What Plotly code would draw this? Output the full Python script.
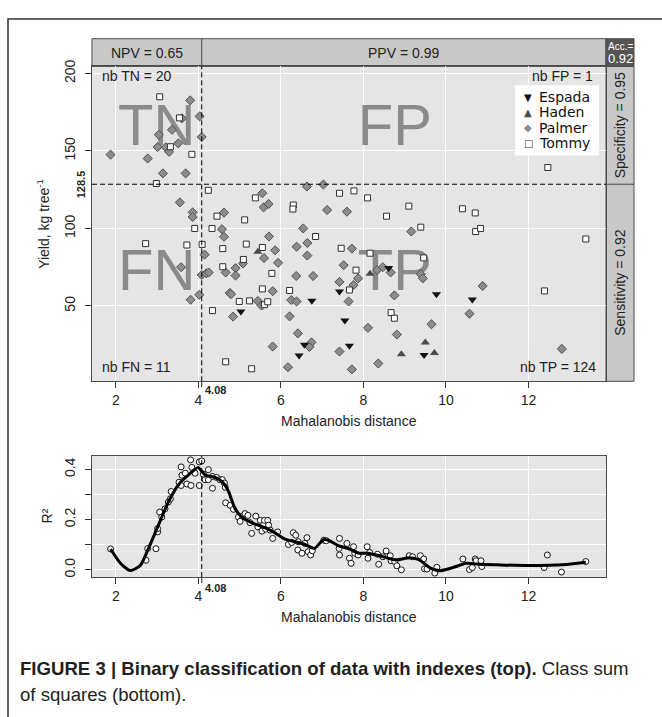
import plotly.graph_objects as go

W, H = 662, 717


def px(x):
    return x / W


def py(y):
    return 1 - y / H


# ---------------- data (top panel) ----------------
espada_x = [5.03, 6.75, 7.42, 8.61, 7.55, 7.66, 6.57, 6.44, 9.47, 9.77, 10.64]
espada_y = [46.5, 53.4, 59.3, 74.4, 40.6, 24.4, 25.0, 18.0, 18.4, 57.6, 54.2]

haden_x = [5.44, 8.16, 8.92, 9.50, 9.72]
haden_y = [84.9, 70.8, 18.9, 26.4, 19.7]

palmer_x = [3.80, 4.03, 3.60, 3.36, 3.04, 4.08, 3.51, 3.01, 3.21, 3.29, 1.87, 2.77, 3.14, 3.69,
            3.55, 3.86, 3.86, 4.62, 5.55, 5.58, 4.57, 4.62, 4.15, 3.58, 4.08, 4.19, 4.25, 4.90,
            4.66, 4.90, 5.08, 5.59, 4.76, 4.79, 4.02, 3.81, 5.44, 5.53, 4.84,
            6.63, 7.03, 5.70, 7.12, 7.60, 6.54, 9.16, 5.71, 6.38, 6.64, 7.72, 5.86, 6.64, 5.93,
            7.52, 6.37, 6.78, 7.87, 7.76, 7.42, 8.33, 8.47, 8.66, 9.39, 9.44, 8.75, 5.80, 6.25,
            6.38, 7.64, 6.21, 8.11, 8.81, 9.65, 6.41, 6.74, 6.69, 5.80, 7.42, 6.17, 7.72, 8.36,
            10.89, 10.57, 12.81]
palmer_y = [182.6, 172.3, 171.0, 163.6, 160.4, 159.0, 154.9, 152.5, 152.3, 149.4, 147.6, 145.1, 135.5, 135.5,
            116.8, 110.4, 107.4, 110.2, 122.7, 113.6, 99.5, 94.6, 83.1, 75.0, 70.0, 71.0, 71.6, 74.4,
            71.6, 69.6, 77.4, 80.9, 58.4, 57.6, 57.2, 54.0, 53.2, 50.3, 43.1,
            127.0, 128.3, 115.8, 111.9, 110.8, 100.0, 98.0, 94.8, 88.2, 90.6, 87.0, 85.9, 82.5, 77.8,
            76.3, 69.3, 69.3, 67.8, 63.5, 65.5, 73.1, 75.0, 71.6, 70.5, 67.8, 56.8, 59.5, 53.8,
            52.9, 52.9, 43.3, 35.9, 31.6, 38.2, 32.3, 26.5, 23.6, 23.8, 20.6, 10.5, 9.1, 12.9,
            62.9, 45.0, 22.3]

tommy_x = [3.06, 3.54, 3.32, 3.84, 2.98, 4.24, 5.38, 4.45, 5.12, 3.91, 4.33, 2.72, 3.72, 4.09,
           4.59, 5.16, 5.55, 5.09, 4.59, 5.55, 4.99, 5.24, 5.60, 4.34, 4.66, 5.29,
           7.42, 7.77, 8.10, 9.10, 8.56, 9.39, 6.30, 6.29, 6.84, 7.46, 8.16, 9.46, 7.82, 7.66,
           6.21, 5.78, 5.68, 8.67, 8.75,
           12.47, 10.40, 10.71, 10.72, 10.84, 13.39, 12.39]
tommy_y = [184.9, 171.3, 152.7, 147.8, 129.0, 124.6, 119.7, 107.9, 105.5, 100.0, 100.0, 90.2, 89.3, 89.7,
           87.0, 89.9, 87.7, 80.0, 75.3, 61.0, 52.9, 53.3, 50.8, 47.0, 14.0, 9.5,
           122.7, 124.2, 119.7, 114.4, 107.9, 100.8, 115.1, 112.5, 94.8, 87.2, 84.0, 81.0, 73.1, 60.3,
           60.0, 71.0, 52.7, 45.7, 42.1,
           139.3, 112.7, 110.0, 98.0, 100.0, 93.2, 59.7]

cultivars = ["Espada", "Haden", "Palmer", "Tommy"]

# thresholds and indexes
x_threshold = 4.08
y_threshold = 128.5
quadrant_labels = ["TN", "FP", "FN", "TP"]
quadrant_counts = ["nb TN = 20", "nb FP = 1", "nb FN = 11", "nb TP = 124"]
npv_text = "NPV = 0.65"
ppv_text = "PPV = 0.99"
spec_text = "Specificity = 0.95"
sens_text = "Sensitivity = 0.92"
acc_value = "0.92"

# ---------------- data (bottom panel) ----------------
r2_x = [1.87, 2.73, 2.97, 2.77, 3.01, 3.01, 3.06, 3.11, 3.19, 3.27, 3.32, 3.34, 3.53, 3.58, 3.60,
        3.58, 3.68, 3.72, 3.82, 3.81, 3.84, 3.92, 4.02, 4.02, 4.08, 4.12, 4.16, 4.24, 4.24, 4.34,
        4.34, 4.44, 4.52, 4.58, 4.63, 4.65, 4.66, 4.77, 4.85, 4.97, 5.01, 5.07, 5.13, 5.20, 5.25,
        5.29, 5.39, 5.44, 5.50, 5.54, 5.58, 5.60, 5.63, 5.68, 5.70, 5.74, 5.80, 5.92, 6.18, 6.26,
        6.30, 6.36, 6.41, 6.42, 6.51, 6.58, 6.63, 6.66, 6.72, 6.76, 7.04, 7.10, 7.42, 7.42, 7.41,
        7.60, 7.66, 7.70, 7.76, 7.79, 7.87, 8.09, 8.11, 8.15, 8.34, 8.37, 8.47, 8.55, 8.65, 8.67,
        8.76, 8.81, 8.92, 9.11, 9.19, 9.38, 9.46, 9.48, 9.54, 9.73, 9.78, 10.41, 10.57, 10.64,
        10.71, 10.73, 10.85, 10.87, 12.38, 12.46, 12.80, 13.39]
r2_y = [0.083, 0.038, 0.084, 0.085, 0.151, 0.164, 0.230, 0.210, 0.243, 0.270, 0.283, 0.312, 0.349,
        0.336, 0.377, 0.410, 0.385, 0.342, 0.336, 0.438, 0.408, 0.385, 0.336, 0.430, 0.434, 0.381,
        0.359, 0.399, 0.359, 0.372, 0.325, 0.368, 0.359, 0.359, 0.346, 0.329, 0.267, 0.257, 0.241,
        0.210, 0.193, 0.214, 0.224, 0.217, 0.188, 0.145, 0.214, 0.171, 0.197, 0.154, 0.180, 0.197,
        0.162, 0.197, 0.178, 0.158, 0.125, 0.151, 0.101, 0.109, 0.148, 0.138, 0.079, 0.112, 0.066,
        0.105, 0.128, 0.072, 0.059, 0.076, 0.118, 0.116, 0.125, 0.059, 0.085, 0.105, 0.046, 0.026,
        0.092, 0.066, 0.059, 0.092, 0.046, 0.069, 0.062, 0.022, 0.052, 0.075, 0.056, 0.036, 0.033,
        0.016, 0.000, 0.056, 0.052, 0.056, 0.043, 0.004, 0.003, -0.013, 0.010, 0.043, 0.001, 0.009,
        0.043, 0.036, 0.036, 0.013, 0.009, 0.059, -0.009, 0.033]

smooth_x = [1.87, 2.11, 2.35, 2.59, 2.79, 3.03, 3.27, 3.53, 3.76, 3.99, 4.16, 4.40, 4.58, 4.73,
            4.89, 5.05, 5.29, 5.62, 5.82, 6.10, 6.34, 6.58, 6.81, 7.03, 7.15, 7.39, 7.63, 7.88,
            8.10, 8.39, 8.79, 9.12, 9.36, 9.60, 9.84, 10.17, 10.49, 10.81, 11.22, 12.02, 12.83, 13.39]
smooth_y = [0.083, 0.026, -0.003, 0.017, 0.085, 0.178, 0.270, 0.342, 0.378, 0.408, 0.378, 0.368,
            0.351, 0.312, 0.243, 0.210, 0.188, 0.167, 0.151, 0.122, 0.112, 0.101, 0.085, 0.120,
            0.118, 0.096, 0.085, 0.066, 0.066, 0.056, 0.039, 0.048, 0.039, 0.009, -0.004, 0.009,
            0.026, 0.022, 0.020, 0.017, 0.020, 0.030]

x_ticks = [2, 4, 6, 8, 10, 12]
y1_ticks = [50, 100, 150, 200]
y2_ticks = [0.0, 0.2, 0.4]
y2_ticktext = ["0.0", "0.2", "0.4"]
y2_minor = [0.1, 0.3]

X_RANGE = [1.42, 13.88]
Y1_RANGE = [1.4, 204.5]
Y2_RANGE = [-0.029, 0.454]

FONT = "Liberation Sans, Arial, sans-serif"
TXT = "#222222"
BORDER = "#4a4a4a"
DASH = "5px,3px"

# styles per cultivar
STY = {
    "Espada": dict(symbol="triangle-down", size=8, color="#111111", line=dict(width=0)),
    "Haden": dict(symbol="triangle-up", size=8, color="#4a4a4a", line=dict(width=0)),
    "Palmer": dict(symbol="diamond", size=7, color="#8c8c8c", line=dict(color="#505050", width=1)),
    "Tommy": dict(symbol="square", size=6, color="white", line=dict(color="#303030", width=1)),
}
GLYPH = {"Espada": ("\u25BC", "#111111"), "Haden": ("\u25B2", "#4a4a4a"),
         "Palmer": ("\u25C6", "#8c8c8c"), "Tommy": ("\u25A1", "#303030")}

fig = go.Figure()

# big quadrant letters (drawn first so points are on top)
fig.add_trace(go.Scatter(
    x=[2.99, 8.76, 2.99, 8.76], y=[163, 163, 69.7, 69.7], mode="text",
    text=quadrant_labels, textfont=dict(family=FONT, size=58, color="#8a8a8a"),
    showlegend=False, hoverinfo="skip", xaxis="x", yaxis="y"))

series = {"Espada": (espada_x, espada_y), "Haden": (haden_x, haden_y),
          "Palmer": (palmer_x, palmer_y), "Tommy": (tommy_x, tommy_y)}
for name in ["Palmer", "Tommy", "Haden", "Espada"]:
    xs, ys = series[name]
    fig.add_trace(go.Scatter(x=xs, y=ys, mode="markers", name=name, showlegend=False,
                             marker=STY[name], xaxis="x", yaxis="y"))

# bottom panel
fig.add_trace(go.Scatter(
    x=r2_x, y=r2_y, mode="markers", showlegend=False,
    marker=dict(symbol="circle", size=6, color="white", line=dict(color="#111111", width=1)),
    xaxis="x2", yaxis="y2"))
fig.add_trace(go.Scatter(
    x=smooth_x, y=smooth_y, mode="lines", showlegend=False,
    line=dict(color="black", width=3, shape="spline", smoothing=0.6),
    xaxis="x2", yaxis="y2"))

axis_common = dict(
    showline=True, mirror=True, linecolor=BORDER, linewidth=1,
    ticks="outside", ticklen=6, tickcolor="#333333", tickwidth=1,
    showgrid=True, gridcolor="white", gridwidth=1, zeroline=False,
    tickfont=dict(family=FONT, size=14, color=TXT),
)

fig.update_layout(
    width=W, height=H, margin=dict(l=0, r=0, t=0, b=0),
    paper_bgcolor="white", plot_bgcolor="#e5e5e5",
    font=dict(family=FONT, color=TXT),
    xaxis=dict(domain=[px(92), px(606)], range=X_RANGE, tickvals=x_ticks, anchor="y", **axis_common),
    yaxis=dict(domain=[py(378), py(60)], range=Y1_RANGE, tickvals=y1_ticks, anchor="x",
               tickangle=-90, ticklabelstandoff=4, **axis_common),
    xaxis2=dict(domain=[px(92), px(606)], range=X_RANGE, tickvals=x_ticks, anchor="y2", **axis_common),
    yaxis2=dict(domain=[py(575.7), py(453.3)], range=Y2_RANGE, tickvals=y2_ticks, ticktext=y2_ticktext,
                anchor="x2", tickangle=-90, ticklabelstandoff=4,
                minor=dict(tickvals=y2_minor, ticks="outside", ticklen=6, tickcolor="#333333",
                           showgrid=True, gridcolor="white", gridwidth=1),
                **axis_common),
    showlegend=False,
)

shapes = []
# threshold dashed lines
shapes.append(dict(type="line", xref="x", yref="y domain", x0=x_threshold, x1=x_threshold, y0=0, y1=1,
                   line=dict(color="black", width=1, dash=DASH)))
shapes.append(dict(type="line", xref="x domain", yref="y", x0=0, x1=1, y0=y_threshold, y1=y_threshold,
                   line=dict(color="black", width=1, dash=DASH)))
shapes.append(dict(type="line", xref="x2", yref="y2 domain", x0=x_threshold, x1=x_threshold, y0=0, y1=1,
                   line=dict(color="black", width=1, dash=DASH)))
# extra tick marks at the threshold
shapes.append(dict(type="line", xref="x", yref="paper", x0=x_threshold, x1=x_threshold,
                   y0=py(378), y1=py(384), line=dict(color="#333333", width=1)))
shapes.append(dict(type="line", xref="x2", yref="paper", x0=x_threshold, x1=x_threshold,
                   y0=py(575.7), y1=py(581.7), line=dict(color="#333333", width=1)))
# strips
STRIP = "#c8c8c8"
shapes.append(dict(type="rect", xref="paper", yref="paper", x0=px(92), x1=px(606), y0=py(60), y1=py(32),
                   fillcolor=STRIP, line=dict(color=BORDER, width=1), layer="below"))
shapes.append(dict(type="rect", xref="paper", yref="paper", x0=px(606), x1=px(634), y0=py(378), y1=py(60),
                   fillcolor=STRIP, line=dict(color=BORDER, width=1), layer="below"))
shapes.append(dict(type="rect", xref="paper", yref="paper", x0=px(606), x1=px(634), y0=py(60), y1=py(32),
                   fillcolor="#555555", line=dict(color=BORDER, width=1)))
shapes.append(dict(type="line", xref="x", yref="paper", x0=x_threshold, x1=x_threshold, y0=py(60), y1=py(32),
                   line=dict(color=BORDER, width=1)))
shapes.append(dict(type="line", xref="paper", yref="y", x0=px(606), x1=px(634), y0=y_threshold, y1=y_threshold,
                   line=dict(color=BORDER, width=1)))
# legend box
shapes.append(dict(type="rect", xref="paper", yref="paper", x0=px(515), x1=px(599), y0=py(150), y1=py(79),
                   fillcolor="white", line=dict(width=0)))
# outer frame
shapes.append(dict(type="rect", xref="paper", yref="paper", x0=px(8), x1=px(700), y0=py(760), y1=py(12),
                   line=dict(color="#333333", width=1.5), fillcolor="rgba(0,0,0,0)"))
fig.update_layout(shapes=shapes)

ann = []


def a(text, x, y, size=14, xref="paper", yref="paper", xanchor="center", yanchor="middle",
      angle=0, color=TXT, family=FONT, **kw):
    ann.append(dict(text=text, x=x, y=y, xref=xref, yref=yref, xanchor=xanchor, yanchor=yanchor,
                    textangle=angle, showarrow=False, font=dict(size=size, color=color, family=family), **kw))


# strip texts
a(npv_text, (X_RANGE[0] + x_threshold) / 2, py(46.5), xref="x")
a(ppv_text, (X_RANGE[1] + x_threshold) / 2, py(46.5), xref="x")
a(spec_text, px(620), (Y1_RANGE[1] + y_threshold) / 2, yref="y", angle=-90)
a(sens_text, px(620), (Y1_RANGE[0] + y_threshold) / 2, yref="y", angle=-90)
a("Acc.=", px(620), py(39.5), size=10, color="white")
a(acc_value, px(620), py(52), size=13, color="white")
# counts
a(quadrant_counts[0], px(100), py(70), xanchor="left")
a(quadrant_counts[1], px(595), py(70), xanchor="right")
a(quadrant_counts[2], px(100), py(364), xanchor="left")
a(quadrant_counts[3], px(598), py(364), xanchor="right")
# legend entries
for i, name in enumerate(cultivars):
    yy = 91 + i * 15.5
    g, col = GLYPH[name]
    a(g, px(528), py(yy), size=10, color=col, family="DejaVu Sans")
    a(name, px(537), py(yy), size=14, xanchor="left", color="#111111", family="DejaVu Sans")
# threshold labels
a("<b>4.08</b>", x_threshold, py(387), size=11, xref="x", xanchor="left", xshift=1)
a("<b>4.08</b>", x_threshold, py(587), size=11, xref="x2", xanchor="left", xshift=1)
a("<b>128.5</b>", px(81), y_threshold, size=11, yref="y", angle=-90)
# axis titles
a("Yield, kg tree<sup>-1</sup>", px(43), py(219), angle=-90)
a("Mahalanobis distance", px(349), py(418))
a("R²", px(47), py(514.5), angle=-90)
a("Mahalanobis distance", px(349), py(616))
# caption
CAP = "Liberation Sans, Arial, sans-serif"
a("<b>FIGURE 3 | Binary classification of data with indexes (top).</b> Class sum", px(18), py(668),
  size=18.6, xanchor="left", family=CAP, color="#231f20")
a("of squares (bottom).", px(18), py(694), size=18.6, xanchor="left", family=CAP, color="#231f20")

fig.update_layout(annotations=ann)

fig.write_html("out.html")
